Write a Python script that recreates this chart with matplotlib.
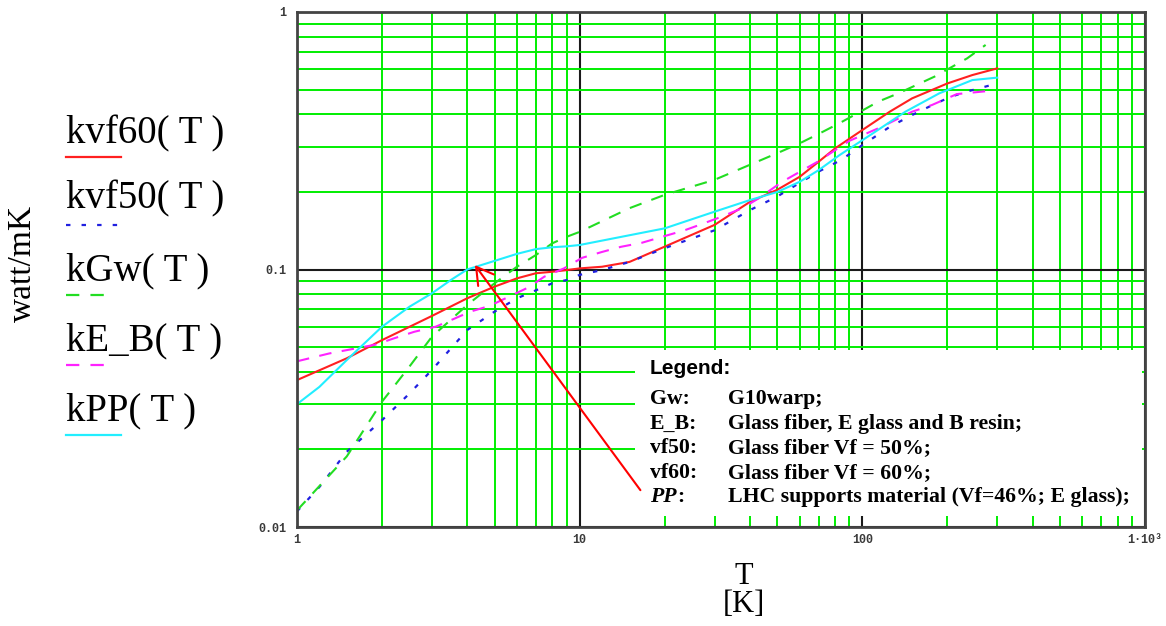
import matplotlib
matplotlib.use("Agg")
import matplotlib.pyplot as plt
from matplotlib.ticker import LogLocator, FixedLocator, FixedFormatter, NullFormatter
from matplotlib.patches import Rectangle
from matplotlib.lines import Line2D

# thermal conductivity curves, watt/mK vs T [K]
T_vf60 = [1, 1.5, 2, 3, 4, 5, 6, 7, 8, 9, 10, 12, 15, 20, 30, 40, 50, 60, 70, 80, 90, 100, 125, 150, 200, 245, 300]
k_vf60 = [0.0372, 0.0452, 0.0532, 0.066, 0.0773, 0.0858, 0.0924, 0.0967, 0.098, 0.0995, 0.101, 0.1025, 0.107,
          0.1227, 0.149, 0.183, 0.204, 0.229, 0.262, 0.295, 0.322, 0.348, 0.41, 0.462, 0.528, 0.569, 0.604]

T_vf50 = [1, 1.2, 1.5, 2, 2.5, 3, 4, 5, 6, 7, 8, 9, 10, 12, 15, 20, 30, 40, 50, 60, 70, 84, 100, 125, 150,
          180, 205, 233, 285]
k_vf50 = [0.0115, 0.0143, 0.0196, 0.026, 0.033, 0.0407, 0.0582, 0.0686, 0.0773, 0.083, 0.0884, 0.091, 0.0953,
          0.0995, 0.107, 0.121, 0.142, 0.170, 0.192, 0.217, 0.24, 0.266, 0.304, 0.358, 0.398, 0.439, 0.468,
          0.49, 0.52]

T_Gw = [1, 1.5, 2, 2.5, 3, 4, 5, 6, 7, 8, 9, 10, 15, 20, 30, 40, 50, 60, 70, 83, 96, 114, 134, 155, 180,
        208, 235, 273]
k_Gw = [0.0116, 0.0188, 0.0307, 0.042, 0.0548, 0.0728, 0.0884, 0.1025, 0.1138, 0.1264, 0.134, 0.140, 0.173,
        0.195, 0.223, 0.255, 0.283, 0.309, 0.336, 0.37, 0.404, 0.449, 0.483, 0.52, 0.561, 0.613, 0.661, 0.745]

T_EB = [1, 1.3, 1.9, 2.2, 2.6, 3.1, 3.6, 4.1, 4.8, 6.6, 7.5, 8.8, 10.2, 12, 14, 16.6, 19.6, 23.5, 27, 31.6,
        37.6, 43, 52, 69, 90, 117, 150, 176, 216, 277]
k_EB = [0.0440, 0.0472, 0.0511, 0.054, 0.0573, 0.060, 0.0644, 0.0686, 0.0722, 0.0853, 0.0938, 0.101, 0.111,
        0.117, 0.1225, 0.127, 0.134, 0.142, 0.150, 0.160, 0.173, 0.189, 0.219, 0.261, 0.316, 0.358, 0.41,
        0.435, 0.48, 0.493]

T_PP = [1, 1.2, 1.5, 2, 2.5, 3, 3.5, 4, 5, 6, 7, 8, 9, 10, 20, 30, 40, 50, 60, 70, 83, 109, 142, 187, 245, 300]
k_PP = [0.030, 0.035, 0.0445, 0.060, 0.0717, 0.0808, 0.091, 0.100, 0.108, 0.115, 0.120, 0.122, 0.123, 0.1245,
        0.1445, 0.1677, 0.186, 0.200, 0.219, 0.243, 0.278, 0.338, 0.41, 0.483, 0.544, 0.556]

xtick_vals = [1, 10, 100, 1000]
xtick_labels = ["1", "10", "100", "1·10³"]
ytick_vals = [0.01, 0.1, 1]
ytick_labels = ["0.01", "0.1", "1"]

series_names = ["kvf60( T )", "kvf50( T )", "kGw( T )", "kE_B( T )", "kPP( T )"]
legend_rows = [("Gw:", "G10warp;"),
               ("E_B:", "Glass fiber, E glass and B resin;"),
               ("vf50:", "Glass fiber Vf = 50%;"),
               ("vf60:", "Glass fiber Vf = 60%;"),
               ("PP", "LHC supports material (Vf=46%; E glass);")]

RED = "#ff2020"
BLUE = "#2020e0"
GREEN = "#22dd22"
MAGENTA = "#ff22ff"
CYAN = "#22eeff"

fig = plt.figure(figsize=(11.66, 6.26), dpi=100)
ax = fig.add_axes([297 / 1166, 1 - 527 / 626, 848 / 1166, 515 / 626])
ax.set_xscale("log")
ax.set_yscale("log")
ax.set_xlim(1, 1000)
ax.set_ylim(0.01, 1)

ax.plot(T_vf60, k_vf60, color=RED, lw=1.5)
ax.plot(T_vf50, k_vf50, color=BLUE, lw=1.6, linestyle=(0, (2, 5)))
ax.plot(T_Gw, k_Gw, color=GREEN, lw=1.5, linestyle=(0, (6, 5)))
ax.plot(T_EB, k_EB, color=MAGENTA, lw=1.5, linestyle=(0, (6, 5)))
ax.plot(T_PP, k_PP, color=CYAN, lw=1.5)

ax.xaxis.set_major_locator(FixedLocator(xtick_vals))
ax.xaxis.set_major_formatter(FixedFormatter(xtick_labels))
ax.yaxis.set_major_locator(FixedLocator(ytick_vals))
ax.yaxis.set_major_formatter(FixedFormatter(ytick_labels))
ax.xaxis.set_minor_locator(LogLocator(base=10, subs=range(2, 10), numticks=20))
ax.yaxis.set_minor_locator(LogLocator(base=10, subs=range(2, 10), numticks=20))
ax.xaxis.set_minor_formatter(NullFormatter())
ax.yaxis.set_minor_formatter(NullFormatter())
ax.tick_params(which="both", length=0)
ax.tick_params(axis="y", pad=8)
ax.tick_params(axis="x", pad=5)
for lbl in ax.get_xticklabels() + ax.get_yticklabels():
    lbl.set_fontfamily("Liberation Mono")
    lbl.set_fontweight("bold")
    lbl.set_fontsize(8.5)
    lbl.set_color("#3a3a3a")

ax.set_axisbelow(True)
ax.grid(which="minor", color="#00ee00", lw=1.4)
ax.grid(which="major", color="#1a1a1a", lw=1.5)
for sp in ax.spines.values():
    sp.set_color("#444444")
    sp.set_linewidth(2)

# white box holding the text legend (hides the grid)
ax.add_patch(Rectangle((0.3986, 0.022), 0.598, 0.321, transform=ax.transAxes,
                       facecolor="white", edgecolor="none", zorder=1))

ax.annotate("", xy=(4.26, 0.104), xytext=(16.4, 0.0139),
            arrowprops=dict(arrowstyle="->,head_length=0.6,head_width=0.35", color="red",
                            lw=1.5, mutation_scale=20, shrinkA=0, shrinkB=0))

# overlay in pixel coordinates for labels
ov = fig.add_axes([0, 0, 1, 1])
ov.set_xlim(0, 1166)
ov.set_ylim(626, 0)
ov.axis("off")

serif = "Liberation Serif"
name_y = [143, 208, 280, 350, 420]
sample_y = [157, 225, 295, 365, 435]
sample_colors = [RED, BLUE, GREEN, MAGENTA, CYAN]
sample_styles = ["-", (0, (2, 5)), (0, (6, 5)), (0, (6, 5)), "-"]
sample_end = [121, 123, 112, 112, 121]
for name, ny, sy, c, ls, xe in zip(series_names, name_y, sample_y, sample_colors, sample_styles, sample_end):
    ov.text(66, ny, name, fontsize=28, family=serif, va="baseline", ha="left")
    ov.add_line(Line2D([66, xe], [sy, sy], color=c, lw=1.6, linestyle=ls))

ov.text(23, 263, "watt/mK", fontsize=24, family=serif, rotation=90, ha="center", va="center")
ov.text(744, 576, "T", fontsize=22, family=serif, ha="center", va="center")
ov.text(744, 605, "[K]", fontsize=22, family=serif, ha="center", va="center")

ov.text(650, 368, "Legend:", fontsize=15, family="Liberation Sans", weight="bold", va="center")
row_y = [399, 424, 448, 473, 497]
for (key, desc), ry in zip(legend_rows, row_y):
    if key == "PP":
        ov.text(650, ry, "PP", fontsize=15.7, family=serif, weight="bold", style="italic", va="center")
        ov.text(677, ry, ":", fontsize=15.7, family=serif, weight="bold", va="center")
    else:
        ov.text(650, ry, key, fontsize=15.7, family=serif, weight="bold", va="center")
    ov.text(728, ry, desc, fontsize=15.7, family=serif, weight="bold", va="center")

fig.savefig("out.png", dpi=100)
